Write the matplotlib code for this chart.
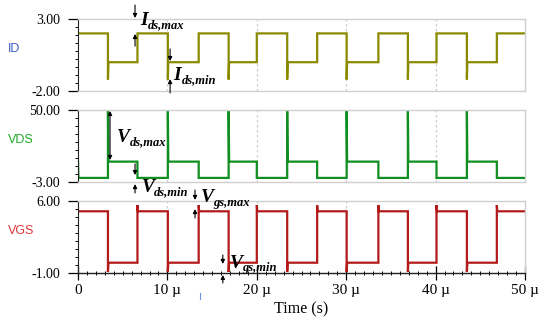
import matplotlib
matplotlib.use("Agg")
import matplotlib.pyplot as plt
from matplotlib.lines import Line2D

# switching edges (µs)
t_fall = [3.35, 10.05, 16.85, 23.4, 30.05, 36.9, 43.5]
t_rise = [6.65, 13.5, 20.0, 26.75, 33.6, 40.1, 46.85]
t_end = 50.0

# levels
id_high, id_low, id_spike = 2.0, 0.0, -1.2
vds_low, vds_plateau, vds_spike = 0.0, 12.0, 50.0
vgs_high, vgs_low, vgs_under, vgs_over = 5.0, 0.0, -0.9, 5.6

# axis ranges / ticks
id_lim = (-2.0, 3.0)
vds_lim = (-3.0, 50.0)
vgs_lim = (-1.0, 6.0)
x_ticks = [0, 10, 20, 30, 40, 50]
x_labels = ["0", "10 µ", "20 µ", "30 µ", "40 µ", "50 µ"]

dt = 0.05


def build(on, off, spike_fall, spike_rise=None):
    """Step waveform: 'on' level between rise and fall edges."""
    t, v = [0.0], [on]
    for tf, tr in zip(t_fall, t_rise):
        t += [tf, tf, tf + dt]
        v += [on, spike_fall, off]
        if spike_rise is None:
            t += [tr, tr]
            v += [off, on]
        else:
            t += [tr, tr, tr + dt]
            v += [off, spike_rise, on]
    t.append(t_end)
    v.append(on)
    return t, v


id_t, id_v = build(id_high, id_low, id_spike)
vgs_t, vgs_v = build(vgs_high, vgs_low, vgs_under, vgs_over)
# VDS is the complement: plateau while the switch is off
vds_t, vds_v = [0.0, dt], [vds_plateau, vds_low]
for tf, tr in zip(t_fall, t_rise):
    vds_t += [tf, tf, tf + dt, tr, tr]
    vds_v += [vds_low, vds_spike, vds_plateau, vds_plateau, vds_low]
vds_t.append(t_end)
vds_v.append(vds_low)

SERIF = "Liberation Serif"
SANS = "Liberation Sans"
GRID = "#cfcfcf"

fig = plt.figure(figsize=(5.5, 3.3), dpi=100)
L, W = 78 / 550, 447 / 550
H = 72 / 330
rects = [(L, 1 - 91 / 330, W, H), (L, 1 - 182 / 330, W, H), (L, 1 - 273 / 330, W, H)]

panels = [
    ("ID", "#3f5fc8", "#8a8a00", id_t, id_v, id_lim, ["3.00", "-2.00"]),
    ("VDS", "#1faa2a", "#0f8f1f", vds_t, vds_v, vds_lim, ["50.00", "-3.00"]),
    ("VGS", "#e03535", "#b31a1a", vgs_t, vgs_v, vgs_lim, ["6.00", "-1.00"]),
]

axes = []
for i, (name, lcol, col, t, v, lim, ylabels) in enumerate(panels):
    ax = fig.add_axes(rects[i])
    ax.plot(t, v, color=col, lw=1.6, solid_joinstyle="miter")
    ax.set_xlim(0, t_end)
    ax.set_ylim(*lim)
    for xv in x_ticks[1:-1]:
        ax.axvline(xv, color=GRID, lw=0.9, ls=(0, (2, 2)), zorder=0)
    for s in ["top", "right", "bottom"]:
        ax.spines[s].set_color(GRID)
        ax.spines[s].set_linewidth(1.0)
    ax.spines["left"].set_color("#222222")
    ax.set_yticks([lim[1], lim[0]])
    ax.set_yticklabels(ylabels, fontfamily=SERIF, fontsize=10)
    ax.set_yticks([lim[0] + k * (lim[1] - lim[0]) / 9 for k in range(1, 9)], minor=True)
    ax.tick_params(axis="y", which="major", length=7, width=0.9, pad=6)
    ax.tick_params(axis="y", which="minor", length=2.5, width=0.7)
    if i < 2:
        ax.set_xticks([])
    fig.text(8 / 550, rects[i][1] + H * 0.58, name, color=lcol,
             fontfamily=SANS, fontsize=9, va="center", ha="left")
    axes.append(ax)

ax3 = axes[2]
ax3.spines["bottom"].set_color("#222222")
ax3.set_xticks(x_ticks)
ax3.set_xticklabels(x_labels, fontfamily=SERIF, fontsize=11)
ax3.set_xticks([k for k in range(1, 50) if k % 10], minor=True)
ax3.tick_params(axis="x", which="major", direction="inout", length=10, width=0.9, pad=3)
ax3.tick_params(axis="x", which="minor", direction="inout", length=3, width=0.7)
ax3.set_xlabel("Time (s)", fontfamily=SERIF, fontsize=11.5, labelpad=3)

# small stray marker below the axis, as in the source figure
fig.add_artist(Line2D([200 / 550] * 2, [1 - 293 / 330, 1 - 299 / 330],
                      color="#7090e0", lw=0.8))

# annotations
arrow = dict(arrowstyle="-|>", color="k", lw=0.8, mutation_scale=6, shrinkA=0, shrinkB=0)
dbl = dict(arrowstyle="<|-|>", color="k", lw=0.8, mutation_scale=6, shrinkA=0, shrinkB=0)


def pair(ax, x, y0, y1, y2, y3):
    ax.annotate("", xy=(x, y1), xytext=(x, y0), arrowprops=arrow, annotation_clip=False)
    ax.annotate("", xy=(x, y3), xytext=(x, y2), arrowprops=arrow, annotation_clip=False)


def label(ax, x, y, letter, sub, w):
    ax.text(x, y, letter, fontfamily=SERIF, fontsize=14, style="italic",
            weight="bold", va="center", ha="left", clip_on=False)
    ax.annotate(sub, xy=(x, y), xytext=(w, -3.6), textcoords="offset points",
                fontfamily=SERIF, fontsize=9, style="italic", weight="bold",
                va="center", ha="left", annotation_clip=False)


ax1, ax2 = axes[0], axes[1]
pair(ax1, 6.38, 3.97, 3.07, 1.12, 1.96)
label(ax1, 6.93, 2.93, "I", "ds,max", 5.8)
pair(ax1, 10.3, 0.92, 0.08, -2.14, -1.17)
label(ax1, 10.7, -0.89, "I", "ds,min", 5.8)

ax2.annotate("", xy=(3.58, 49.3), xytext=(3.58, 13.2), arrowprops=dbl, annotation_clip=False)
label(ax2, 4.36, 29.8, "V", "ds,max", 9.0)
pair(ax2, 6.38, 10.3, 2.1, -11.1, -4.5)
label(ax2, 7.1, -7.0, "V", "ds,min", 9.0)

pair(ax3, 13.09, 7.07, 6.1, 4.35, 5.22)
label(ax3, 13.7, 6.34, "V", "gs,max", 9.0)
pair(ax3, 16.2, 0.75, -0.12, -1.97, -1.19)
label(ax3, 16.95, -0.05, "V", "gs,min", 9.0)

plt.savefig("out.png", dpi=100)
plt.close(fig)
